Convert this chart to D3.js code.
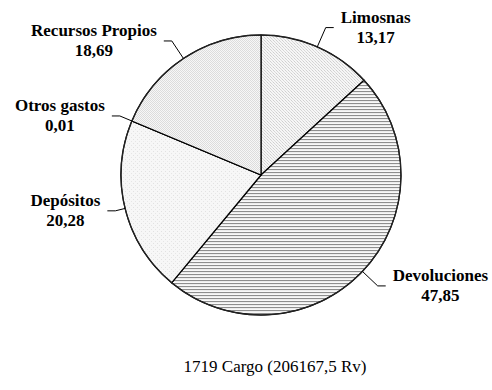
<!DOCTYPE html>
<html>
<head>
<meta charset="utf-8">
<script src="https://cdn.jsdelivr.net/npm/d3@7"></script>
<style>
  html, body { margin: 0; padding: 0; background: #fff; }
  svg { display: block; }
  text { font-family: "Liberation Serif", "Times New Roman", Times, serif; }
</style>
</head>
<body>
<svg id="chart" width="492" height="390"></svg>
<script>
// Slices, clockwise from 12 o'clock
const categories = ["Limosnas", "Devoluciones", "Depósitos", "Otros gastos", "Recursos Propios"];
const values = [13.17, 47.85, 20.28, 0.01, 18.69];
const valueLabels = ["13,17", "47,85", "20,28", "0,01", "18,69"];
const title = "1719 Cargo (206167,5 Rv)";

// Fill pattern ids per slice
const patternIds = ["pLimosnas", "pDevoluciones", "pDepositos", "pOtros", "pRecursos"];
// Leader: radial length beyond the rim, then a short horizontal run
const leaderRadial = [21, 21, 10, 13, 21];
const leaderRun = 8;
const labelGap = 7;

const svg = d3.select("#chart");
const cx = 261, cy = 175, r = 140;

const defs = svg.append("defs");

// fine diagonal hatch
const p1 = defs.append("pattern").attr("id", "pLimosnas")
  .attr("patternUnits", "userSpaceOnUse").attr("width", 3).attr("height", 3);
p1.append("rect").attr("width", 3).attr("height", 3).attr("fill", "#f6f6f6");
p1.append("rect").attr("x", 0).attr("y", 0).attr("width", 1).attr("height", 1).attr("fill", "#cfcfcf");
p1.append("rect").attr("x", 1).attr("y", 1).attr("width", 1).attr("height", 1).attr("fill", "#d6d6d6");
p1.append("rect").attr("x", 2).attr("y", 2).attr("width", 1).attr("height", 1).attr("fill", "#dcdcdc");

// horizontal lines
const p2 = defs.append("pattern").attr("id", "pDevoluciones")
  .attr("patternUnits", "userSpaceOnUse").attr("width", 4).attr("height", 3);
p2.append("rect").attr("width", 4).attr("height", 3).attr("fill", "#ececec");
p2.append("rect").attr("y", 0).attr("width", 4).attr("height", 1).attr("fill", "#8e8e8e");
p2.append("rect").attr("y", 2).attr("width", 4).attr("height", 1).attr("fill", "#f8f8f8");

// very light dots
const p3 = defs.append("pattern").attr("id", "pDepositos")
  .attr("patternUnits", "userSpaceOnUse").attr("width", 4).attr("height", 4);
p3.append("rect").attr("width", 4).attr("height", 4).attr("fill", "#f7f7f7");
p3.append("rect").attr("x", 0).attr("y", 0).attr("width", 1).attr("height", 1).attr("fill", "#e2e2e2");
p3.append("rect").attr("x", 2).attr("y", 2).attr("width", 1).attr("height", 1).attr("fill", "#e6e6e6");

const p4 = defs.append("pattern").attr("id", "pOtros")
  .attr("patternUnits", "userSpaceOnUse").attr("width", 2).attr("height", 2);
p4.append("rect").attr("width", 2).attr("height", 2).attr("fill", "#e0e0e0");

// checker dots
const p5 = defs.append("pattern").attr("id", "pRecursos")
  .attr("patternUnits", "userSpaceOnUse").attr("width", 2).attr("height", 2);
p5.append("rect").attr("width", 2).attr("height", 2).attr("fill", "#f7f7f7");
p5.append("rect").attr("x", 0).attr("y", 0).attr("width", 1).attr("height", 1).attr("fill", "#dcdcdc");
p5.append("rect").attr("x", 1).attr("y", 1).attr("width", 1).attr("height", 1).attr("fill", "#dcdcdc");

const data = categories.map((c, i) => ({ name: c, value: values[i], label: valueLabels[i], pat: patternIds[i], lr: leaderRadial[i] }));

const pie = d3.pie().sort(null).value(d => d.value).startAngle(0).endAngle(2 * Math.PI);
const arcs = pie(data);
const arc = d3.arc().innerRadius(0).outerRadius(r);

const g = svg.append("g").attr("transform", `translate(${cx},${cy})`);

g.selectAll("path.slice").data(arcs).enter().append("path")
  .attr("class", "slice")
  .attr("d", arc)
  .attr("fill", d => `url(#${d.data.pat})`)
  .attr("stroke", "#000")
  .attr("stroke-width", 1.2)
  .attr("stroke-linejoin", "round");

// outer rim
g.append("circle").attr("r", r).attr("fill", "none").attr("stroke", "#222").attr("stroke-width", 1.3);

// leader lines and labels
arcs.forEach(d => {
  const a = (d.startAngle + d.endAngle) / 2;
  const sx = Math.sin(a), sy = -Math.cos(a);
  const p0 = [sx * r, sy * r];
  const p1 = [sx * (r + d.data.lr), sy * (r + d.data.lr)];
  const right = sx >= 0;
  const p2 = [p1[0] + (right ? leaderRun : -leaderRun), p1[1]];
  g.append("path")
    .attr("d", d3.line()([p0, p1, p2]))
    .attr("fill", "none").attr("stroke", "#000").attr("stroke-width", 1);

  const lbl = g.append("g");
  const t1 = lbl.append("text").text(d.data.name)
    .attr("font-weight", "bold").attr("font-size", 17)
    .attr("text-anchor", "middle").attr("dominant-baseline", "central");
  const w = t1.node().getComputedTextLength();
  const tx = right ? p2[0] + labelGap + w / 2 : p2[0] - labelGap - w / 2;
  t1.attr("x", tx).attr("y", p2[1] - 10);
  lbl.append("text").text(d.data.label)
    .attr("font-weight", "bold").attr("font-size", 17)
    .attr("text-anchor", "middle").attr("dominant-baseline", "central")
    .attr("x", tx).attr("y", p2[1] + 10);
});

svg.append("text").text(title)
  .attr("x", 275).attr("y", 372)
  .attr("text-anchor", "middle")
  .attr("font-size", 17)
  .attr("fill", "#000");
</script>
</body>
</html>
